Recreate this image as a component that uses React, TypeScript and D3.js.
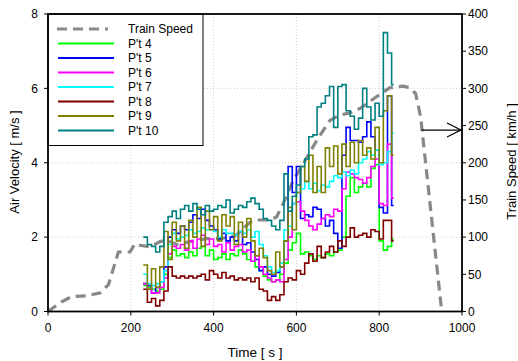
import React from "react";
import * as d3 from "d3";

const times = [230,240,250,260,270,280,290,300,310,320,330,340,350,360,370,380,390,400,410,420,430,440,450,460,470,480,490,500,510,520,530,540,550,560,570,580,590,600,610,620,630,640,650,660,670,680,690,700,710,720,730,740,750,760,770,780,790,800,810,820,830];
const endTime = 835;

const pt4 = [0.7,0.65,0.6,0.55,0.6,1.0,
  1.45,1.65,1.5,1.55,1.45,1.6,1.5,1.7,1.75,1.5,1.65,1.4,1.45,1.55,1.4,1.55,1.5,1.65,1.55,1.4,1.35,1.2,1.1,0.95,0.85,0.8,0.85,1.0,
  1.3,1.65,1.85,2.1,1.55,1.6,1.5,1.4,1.5,1.45,1.55,1.5,1.6,1.65,2.0,3.1,3.6,3.2,3.35,3.45,3.35,3.85,3.95,1.9,1.65,1.75,1.95];
const pt5 = [0.75,0.7,0.5,0.65,0.8,1.2,
  2.0,2.2,2.1,2.3,2.2,2.4,2.6,2.5,2.75,2.45,2.3,2.2,1.95,2.1,1.9,2.0,1.9,2.15,1.8,1.85,1.6,1.4,1.1,1.2,1.0,0.95,1.05,1.2,
  1.9,3.9,3.2,3.9,2.5,2.6,2.55,2.8,2.75,2.5,2.3,2.45,2.1,1.7,4.2,4.95,4.6,4.6,4.55,4.7,5.1,4.7,4.35,2.8,2.65,5.8,2.85];
const pt6 = [0.75,0.6,0.5,0.5,0.65,0.9,
  1.55,1.75,1.7,1.8,1.65,1.9,1.7,1.95,2.05,1.8,1.95,1.75,1.8,1.6,1.85,1.65,1.75,1.8,1.6,1.65,1.35,1.5,1.2,1.0,0.9,0.8,0.85,0.8,
  1.4,2.0,2.9,2.95,2.7,2.45,2.3,2.2,2.35,2.5,2.6,2.55,2.75,2.7,3.3,3.75,3.7,3.6,3.55,3.45,3.6,3.9,4.1,2.9,2.85,4.5,3.05];
const pt7 = [1.0,0.75,0.7,0.75,0.8,1.1,
  1.8,2.1,1.95,2.0,2.05,2.2,2.1,2.15,2.25,2.2,2.2,2.15,2.0,2.2,2.1,2.1,2.05,2.15,2.1,2.2,2.0,2.15,1.8,1.5,1.2,1.05,1.1,1.3,
  2.2,2.3,2.9,3.2,3.3,3.5,3.3,3.45,3.25,3.4,3.35,3.5,3.65,3.6,3.75,3.65,3.8,3.7,4.0,4.1,4.3,4.2,4.35,3.95,4.0,4.3,4.8];
const pt8 = [0.6,0.25,0.35,0.15,0.3,0.55,
  1.2,0.95,0.9,0.95,0.9,0.95,0.9,0.95,1.0,0.85,1.1,1.0,0.9,1.05,0.9,0.95,0.85,0.9,0.85,0.9,0.8,0.9,0.6,0.55,0.3,0.4,0.3,0.45,
  0.8,0.9,0.85,1.1,1.0,1.3,1.55,1.35,1.75,1.45,1.6,1.75,1.6,1.9,1.75,2.0,2.25,2.0,2.05,2.1,2.0,2.2,2.15,1.95,2.45,2.45,1.9];
const pt9 = [1.25,0.6,1.15,0.65,1.2,2.15,
  1.4,2.4,1.9,2.3,1.7,2.45,2.0,2.8,1.75,2.7,2.2,2.55,1.9,2.6,2.3,2.55,1.8,2.4,2.0,2.5,1.9,1.5,1.7,1.45,1.1,1.0,1.6,1.2,
  1.9,2.8,2.2,3.2,3.9,3.5,4.2,3.2,3.9,3.2,4.4,3.9,4.45,3.7,4.5,3.9,4.55,4.0,4.6,4.2,4.4,4.1,4.95,4.0,5.4,5.8,4.2];
const pt10 = [2.0,1.8,1.75,1.6,1.75,2.4,
  2.55,2.7,2.5,2.75,2.85,2.7,2.9,2.75,2.6,2.85,2.7,2.75,2.85,2.8,3.0,2.65,2.75,2.85,2.8,2.95,3.05,2.9,2.75,2.5,2.45,2.3,2.2,2.45,
  3.7,2.7,3.1,3.4,3.9,4.1,4.7,4.75,5.5,5.6,5.8,6.05,4.95,6.05,6.1,5.4,5.25,4.9,5.2,6.0,5.5,5.15,5.6,5.25,7.5,6.95,6.1];

const speedTimes = [0,15,33,57,93,126,146,158,170,198,210,222,246,271,287,311,343,383,415,440,456,472,488,500,536,552,568,593,617,649,681,705,729,754,794,826,858,874,888,900,951];
const speedKmh = [0,6,13,20,21,25,36,58,80,80,91,89,87,94,96,90,94,98,98,100,103,112,120,123,123,127,145,177,199,230,257,264,267,273,289,301,303,301,293,262,0];

const seriesNames = ["P't 4","P't 5","P't 6","P't 7","P't 8","P't 9","P't 10"];
const seriesValues = [pt4, pt5, pt6, pt7, pt8, pt9, pt10];
const seriesColors = ["#00ff00","#0000ff","#ff00ff","#00ffff","#800000","#808000","#008080"];

const xTicks = [0,200,400,600,800,1000];
const yLeftTicks = [0,2,4,6,8];
const yRightTicks = [0,50,100,150,200,250,300,350,400];
const arrowSpeed = 244;
const arrowStartTime = 900;

const FONT = "'Liberation Sans', Arial, sans-serif";

export default function App() {
  const L = 48, R = 462, T = 14, B = 311.5;
  const x = d3.scaleLinear().domain([0, 1000]).range([L, R]);
  const yL = d3.scaleLinear().domain([0, 8]).range([B, T]);
  const yR = d3.scaleLinear().domain([0, 400]).range([B, T]);

  const stepLine = d3.line<[number, number]>().x(d => x(d[0])).y(d => yL(d[1])).curve(d3.curveStepAfter);
  const speedLine = d3.line<[number, number]>().x(d => x(d[0])).y(d => yR(d[1]));

  const speedPath = speedLine(speedTimes.map((t, i) => [t, speedKmh[i]] as [number, number])) || "";

  const ay = yR(arrowSpeed);
  const ax0 = x(arrowStartTime) + 1;

  const legendY0 = 29;
  const legendDy = 14.5;

  return (
    <svg width={518} height={361} style={{ position: "absolute", left: 0, top: 0, background: "#fff" }} fontFamily={FONT}>
      <rect x={0} y={0} width={518} height={361} fill="#fff" />
      {/* grid */}
      {xTicks.filter(t => t > 0 && t < 1000).map(t => (
        <line key={"gx" + t} x1={x(t)} x2={x(t)} y1={T} y2={B} stroke="#cfcfcf" strokeWidth={1} strokeDasharray="1,2" />
      ))}
      {yLeftTicks.filter(t => t > 0 && t < 8).map(t => (
        <line key={"gy" + t} x1={L} x2={R} y1={yL(t)} y2={yL(t)} stroke="#cfcfcf" strokeWidth={1} strokeDasharray="1,2" />
      ))}
      {/* train speed */}
      <path d={speedPath} fill="none" stroke="#888" strokeWidth={3.2} strokeDasharray="10,6" />
      {/* series */}
      {seriesValues.map((vals, si) => {
        const pts = times.map((t, i) => [t, vals[i]] as [number, number]);
        pts.push([endTime, vals[vals.length - 1]]);
        return <path key={si} d={stepLine(pts) || ""} fill="none" stroke={seriesColors[si]} strokeWidth={1.6} />;
      })}
      {/* arrow */}
      <line x1={ax0} x2={R - 1} y1={ay} y2={ay} stroke="#000" strokeWidth={1.2} />
      <polyline points={`${R - 15},${ay - 7} ${R - 1},${ay} ${R - 15},${ay + 7}`} fill="none" stroke="#000" strokeWidth={1.2} />
      {/* legend */}
      <rect x={L} y={T} width={155} height={131.5} fill="#fff" stroke="#000" strokeWidth={1} />
      <line x1={57} x2={108} y1={legendY0} y2={legendY0} stroke="#888" strokeWidth={3.2} strokeDasharray="10,6" />
      <text x={128} y={legendY0 + 4.3} fontSize={12} fill="#000">Train Speed</text>
      {seriesNames.map((n, i) => {
        const yy = legendY0 + legendDy * (i + 1);
        return (
          <g key={n}>
            <line x1={58} x2={114} y1={yy} y2={yy} stroke={seriesColors[i]} strokeWidth={1.8} />
            <text x={128} y={yy + 4.3} fontSize={12} fill="#000">{n}</text>
          </g>
        );
      })}
      {/* frame */}
      <rect x={L} y={T} width={R - L} height={B - T} fill="none" stroke="#000" strokeWidth={1.8} />
      {/* left axis */}
      {yLeftTicks.map(t => (
        <g key={"yl" + t}>
          <line x1={L - 4} x2={L} y1={yL(t)} y2={yL(t)} stroke="#000" strokeWidth={1} />
          <text x={L - 10} y={yL(t) + 4.3} fontSize={12} textAnchor="end" fill="#000">{t}</text>
        </g>
      ))}
      {/* bottom axis */}
      {xTicks.map(t => (
        <g key={"xb" + t}>
          <line x1={x(t)} x2={x(t)} y1={B} y2={B + 4} stroke="#000" strokeWidth={1} />
          <text x={x(t)} y={B + 20} fontSize={12} textAnchor="middle" fill="#000">{t}</text>
        </g>
      ))}
      {/* right axis */}
      {yRightTicks.map(t => (
        <g key={"yr" + t}>
          <line x1={R} x2={R + 4} y1={yR(t)} y2={yR(t)} stroke="#000" strokeWidth={1} />
          <text x={R + 6} y={yR(t) + 4.3} fontSize={12} textAnchor="start" fill="#000">{t}</text>
        </g>
      ))}
      {/* titles */}
      <text transform={`translate(18.5,162) rotate(-90)`} fontSize={13} textAnchor="middle" fill="#000">Air Velocity [ m/s ]</text>
      <text x={255} y={357} fontSize={13.5} textAnchor="middle" fill="#000">Time [ s ]</text>
      <text transform={`translate(516,161.5) rotate(-90)`} fontSize={13} textAnchor="middle" fill="#000">Train Speed [ km/h ]</text>
    </svg>
  );
}
